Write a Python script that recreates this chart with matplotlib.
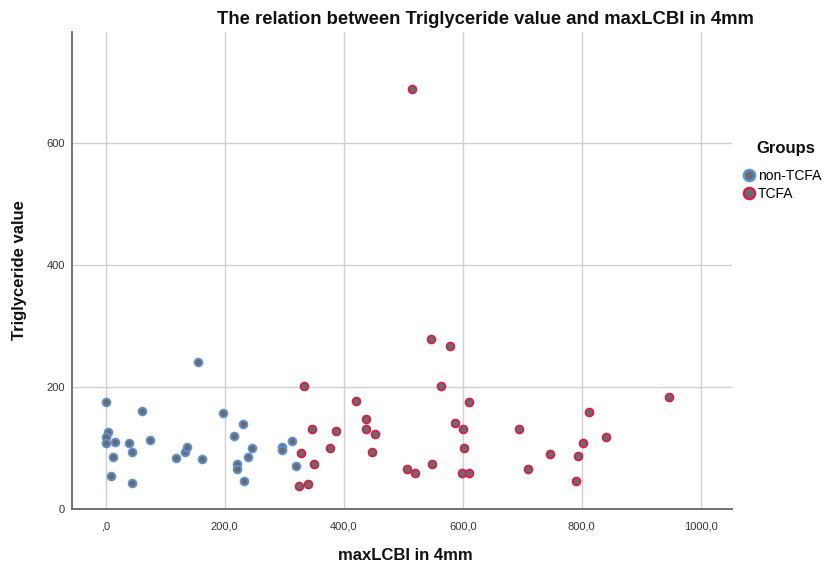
import matplotlib
matplotlib.use("Agg")
import matplotlib.pyplot as plt
from matplotlib.lines import Line2D

plt.rcParams['font.family'] = ['Liberation Sans', 'DejaVu Sans']

# non-TCFA group (maxLCBI, triglyceride)
non_tcfa_x = [0, 61, 4, 0, 0, 16, 39, 74, 12, 45, 9, 44, 156, 198, 230, 215,
              246, 239, 220, 220, 232, 118, 134, 137, 162, 296, 297, 313, 319]
non_tcfa_y = [176, 162, 126, 119, 109, 111, 109, 114, 86, 94, 54, 44, 241, 158, 140, 121,
              101, 86, 75, 66, 47, 84, 94, 102, 83, 103, 97, 112, 71]

# TCFA group
tcfa_x = [334, 421, 346, 387, 329, 350, 377, 325, 340, 546, 579, 564, 610, 437, 437, 453,
          448, 587, 600, 694, 602, 710, 506, 519, 549, 599, 610, 946, 812, 841, 802, 794,
          747, 790, 515]
tcfa_y = [202, 178, 131, 129, 92, 75, 101, 39, 41, 279, 268, 202, 176, 148, 131, 123,
          94, 141, 132, 131, 100, 67, 67, 59, 74, 60, 60, 184, 160, 119, 108, 87,
          90, 46, 688]

x_ticks = [0, 200, 400, 600, 800, 1000]
x_tick_labels = [',0', '200,0', '400,0', '600,0', '800,0', '1000,0']
y_ticks = [0, 200, 400, 600]
y_tick_labels = ['0', '200', '400', '600']

fill = '#6b6b6b'
blue = '#5b93d8'
red = '#d5204a'

fig = plt.figure(figsize=(8.31, 5.73), dpi=100)
ax = fig.add_axes([0.0866, 0.111, 0.7944, 0.833])

ax.scatter(non_tcfa_x, non_tcfa_y, s=32, c=fill, edgecolors=blue, linewidths=1.3, zorder=3)
ax.scatter(tcfa_x, tcfa_y, s=32, c=fill, edgecolors=red, linewidths=1.3, zorder=3)

ax.set_xlim(-56.6, 1052.6)
ax.set_ylim(0, 782)
ax.set_xticks(x_ticks)
ax.set_xticklabels(x_tick_labels)
ax.set_yticks(y_ticks)
ax.set_yticklabels(y_tick_labels)
ax.tick_params(length=0, labelsize=8, colors='#333333')
ax.tick_params(axis='x', pad=9)
ax.tick_params(axis='y', pad=5)

ax.grid(True, color='#d0d0d0', linewidth=1.0, zorder=0)
ax.set_axisbelow(True)
for s in ['top', 'right']:
    ax.spines[s].set_visible(False)
for s in ['left', 'bottom']:
    ax.spines[s].set_color('#666666')
    ax.spines[s].set_linewidth(1.3)

fig.text(485 / 831, 1 - 19 / 573, 'The relation between Triglyceride value and maxLCBI in 4mm',
         ha='center', va='center', fontsize=13.3, fontweight='bold', color='#111111')
fig.text(405 / 831, 1 - 555 / 573, 'maxLCBI in 4mm', ha='center', va='center',
         fontsize=12, fontweight='bold', color='#111111')
fig.text(20 / 831, 1 - 270 / 573, 'Triglyceride value', ha='center', va='center',
         rotation=90, fontsize=12, fontweight='bold', color='#111111')

# legend
fig.text(786 / 831, 1 - 148 / 573, 'Groups', ha='center', va='center',
         fontsize=12, fontweight='bold', color='#111111')
handles = [
    Line2D([], [], marker='o', linestyle='none', markersize=8, markerfacecolor=fill,
           markeredgecolor=blue, markeredgewidth=1.8),
    Line2D([], [], marker='o', linestyle='none', markersize=8, markerfacecolor=fill,
           markeredgecolor=red, markeredgewidth=1.8),
]
leg = fig.legend(handles, ['non-TCFA', 'TCFA'], loc='center left',
                 bbox_to_anchor=(734 / 831, 1 - 185 / 573), frameon=False, fontsize=10,
                 handletextpad=0.0, labelspacing=0.3, borderpad=0, handlelength=1.2)

fig.savefig('out.png', dpi=100)
